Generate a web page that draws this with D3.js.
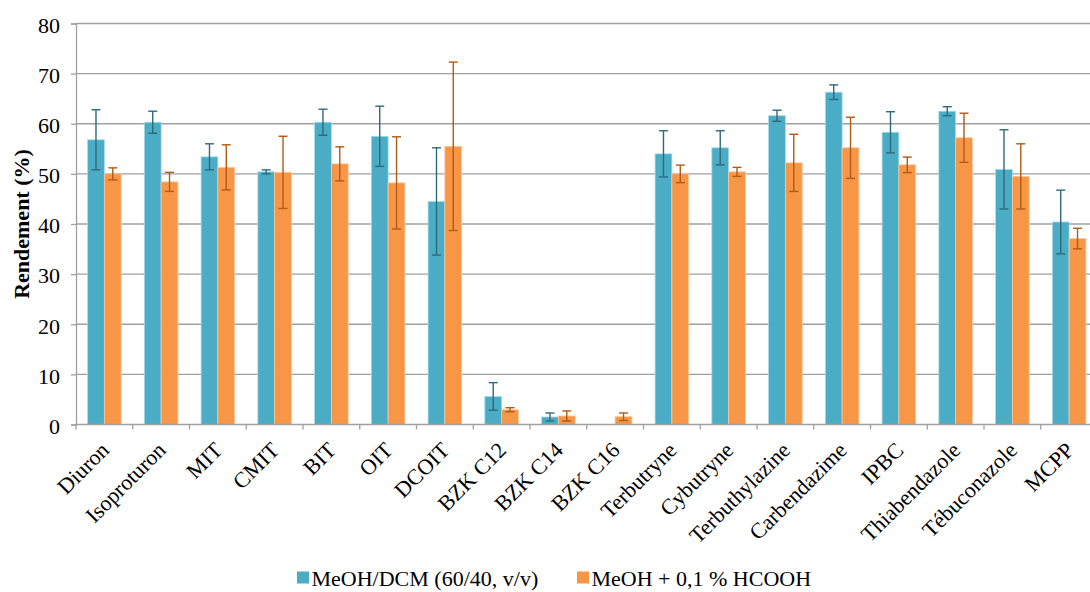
<!DOCTYPE html>
<html>
<head>
<meta charset="utf-8">
<script src="https://cdn.jsdelivr.net/npm/d3@7"></script>
<style>
  body { margin: 0; background: #fff; }
  svg { display: block; }
</style>
</head>
<body>
<div id="chart"></div>
<script>
const categories = ["Diuron", "Isoproturon", "MIT", "CMIT", "BIT", "OIT", "DCOIT", "BZK C12", "BZK C14", "BZK C16",
  "Terbutryne", "Cybutryne", "Terbuthylazine", "Carbendazime", "IPBC", "Thiabendazole", "Tébuconazole", "MCPP"];
const seriesNames = ["MeOH/DCM (60/40, v/v)", "MeOH + 0,1 % HCOOH"];
const dcmValues = [56.8, 60.3, 53.4, 50.4, 60.3, 57.5, 44.5, 5.6, 1.5, 0, 54.0, 55.2, 61.6, 66.3, 58.3, 62.5, 50.9, 40.4];
const dcmErrors = [6.0, 2.2, 2.6, 0.4, 2.6, 6.0, 10.7, 2.75, 0.8, 0, 4.6, 3.4, 1.1, 1.45, 4.1, 0.9, 7.9, 6.35];
const acidValues = [50.0, 48.4, 51.3, 50.3, 52.0, 48.2, 55.5, 2.95, 1.7, 1.55, 50.0, 50.4, 52.2, 55.2, 51.8, 57.2, 49.5, 37.1];
const acidErrors = [1.2, 1.9, 4.5, 7.2, 3.4, 9.2, 16.8, 0.4, 1.0, 0.75, 1.75, 0.9, 5.7, 6.1, 1.55, 4.9, 6.5, 2.05];
const yTicks = [0, 10, 20, 30, 40, 50, 60, 70, 80];

const width = 1090, height = 592;
const plotLeft = 76, plotRight = 1097.5, plotTop = 23.5, plotBottom = 424.5;
const fontSize = 22;

const svg = d3.select("#chart").append("svg")
    .attr("width", width)
    .attr("height", height)
    .style("font-family", "'Liberation Serif', 'Times New Roman', serif");

const x = d3.scaleBand().domain(categories).range([plotLeft, plotRight]);
const y = d3.scaleLinear().domain([0, 80]).range([plotBottom, plotTop]);

const barW = x.bandwidth() * 0.296;

// grille
svg.append("g")
    .selectAll("line")
    .data(yTicks.slice(1))
    .join("line")
    .attr("x1", plotLeft).attr("x2", plotRight)
    .attr("y1", d => y(d)).attr("y2", d => y(d))
    .attr("stroke", "#a0a0a0")
    .attr("stroke-width", 1.3);

// axe y
const yAxis = svg.append("g")
    .attr("transform", `translate(${plotLeft},0)`)
    .call(d3.axisLeft(y).tickValues(yTicks).tickSize(5).tickPadding(11));
yAxis.select(".domain").attr("stroke", "#a0a0a0").attr("stroke-width", 1.3);
yAxis.selectAll(".tick line").attr("stroke", "#a0a0a0").attr("stroke-width", 1.3);
yAxis.selectAll(".tick text")
    .attr("font-size", fontSize)
    .attr("dy", "0.4em")
    .attr("font-family", "'Liberation Serif', serif")
    .attr("fill", "#000");

// titre y
svg.append("text")
    .attr("transform", `translate(28.5,${(plotTop + plotBottom) / 2}) rotate(-90)`)
    .attr("text-anchor", "middle")
    .attr("font-size", fontSize)
    .attr("font-weight", "bold")
    .text("Rendement (%)");

const series = [
  { values: dcmValues, errors: dcmErrors, fill: "#4BACC6", edge: "#a8dce8", err: "#2f6a7c", offset: 0 },
  { values: acidValues, errors: acidErrors, fill: "#F79646", edge: "#fcc79c", err: "#b35a14", offset: 1 }
];

const pairStart = (x.bandwidth() - 2 * barW) / 2;

series.forEach(s => {
  const g = svg.append("g");
  g.selectAll("rect")
    .data(categories)
    .join("rect")
    .attr("x", d => x(d) + pairStart + s.offset * barW)
    .attr("y", (d, i) => y(s.values[i]))
    .attr("width", barW)
    .attr("height", (d, i) => y(0) - y(s.values[i]))
    .attr("fill", s.fill)
    .attr("stroke", s.edge)
    .attr("stroke-width", 0.8);

  // barres d'erreur
  const eg = svg.append("g").attr("stroke", s.err).attr("stroke-width", 1.4);
  categories.forEach((c, i) => {
    if (!s.errors[i]) return;
    const cx = x(c) + pairStart + s.offset * barW + barW / 2;
    const hi = y(s.values[i] + s.errors[i]);
    const lo = y(Math.max(0, s.values[i] - s.errors[i]));
    eg.append("line").attr("x1", cx).attr("x2", cx).attr("y1", hi).attr("y2", lo);
    eg.append("line").attr("x1", cx - 4.5).attr("x2", cx + 4.5).attr("y1", hi).attr("y2", hi);
    eg.append("line").attr("x1", cx - 4.5).attr("x2", cx + 4.5).attr("y1", lo).attr("y2", lo);
  });
});

// axe x
svg.append("line")
    .attr("x1", plotLeft).attr("x2", plotRight)
    .attr("y1", plotBottom).attr("y2", plotBottom)
    .attr("stroke", "#a0a0a0")
    .attr("stroke-width", 1.3);
svg.append("g")
    .selectAll("line")
    .data(categories)
    .join("line")
    .attr("x1", d => x(d)).attr("x2", d => x(d))
    .attr("y1", plotBottom).attr("y2", plotBottom + 5)
    .attr("stroke", "#a0a0a0")
    .attr("stroke-width", 1.3);

svg.append("g")
    .selectAll("text")
    .data(categories)
    .join("text")
    .attr("transform", d => `translate(${x(d) + x.bandwidth() / 2 + 6},${plotBottom + 27}) rotate(-45)`)
    .attr("text-anchor", "end")
    .attr("font-size", fontSize)
    .text(d => d);

// légende
const legend = svg.append("g");
const legendX = [297, 577];
seriesNames.forEach((name, i) => {
  legend.append("rect")
    .attr("x", legendX[i]).attr("y", 571.5)
    .attr("width", 12).attr("height", 12)
    .attr("fill", series[i].fill);
  legend.append("text")
    .attr("x", legendX[i] + 14.5).attr("y", 586)
    .attr("font-size", fontSize)
    .text(name);
});
</script>
</body>
</html>
